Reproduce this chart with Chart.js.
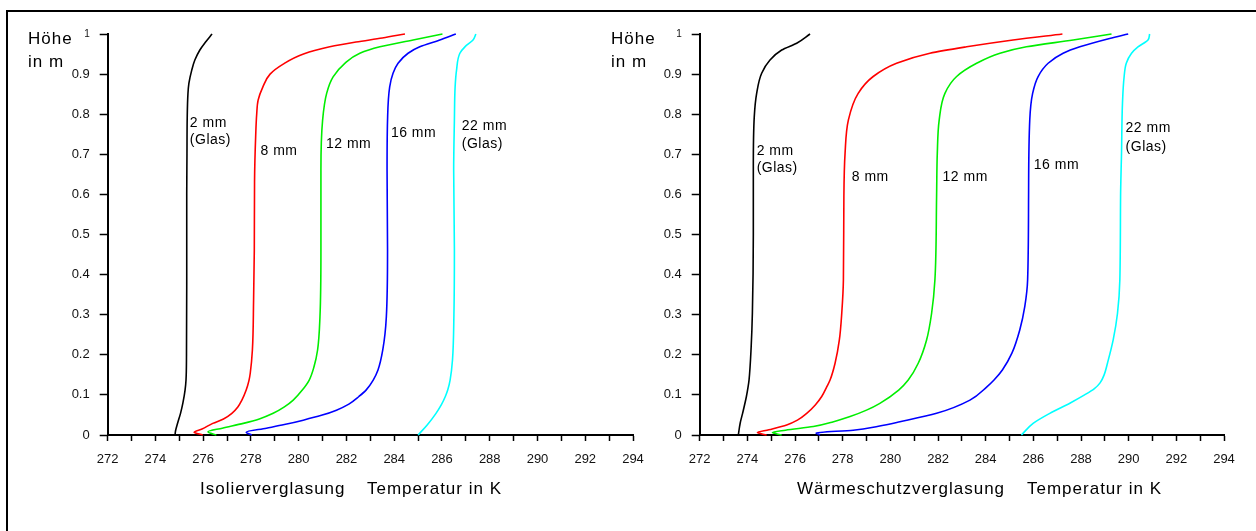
<!DOCTYPE html>
<html>
<head>
<meta charset="utf-8">
<script src="https://cdn.jsdelivr.net/npm/chart.js@4.4.1/dist/chart.umd.min.js"></script>
<style>
  html, body { margin: 0; padding: 0; background: #fff; }
  body { width: 1256px; height: 531px; position: relative; overflow: hidden; }
  #frame { position: absolute; left: 6px; top: 10px; width: 1400px; height: 700px;
           border-top: 2px solid #000; border-left: 2px solid #000; }
  .box { position: absolute; top: 0; height: 531px; }
  #boxL { left: 0; width: 660px; }
  #boxR { left: 592px; width: 664px; }
</style>
</head>
<body>
<div id="frame"></div>
<div class="box" id="boxL"><canvas id="chartIso" width="660" height="531"></canvas></div>
<div class="box" id="boxR"><canvas id="chartWsv" width="664" height="531"></canvas></div>
<script>
// Axis tick labels
const tempTickLabels = ['272','274','276','278','280','282','284','286','288','290','292','294'];
const heightTickLabels = ['0','0.1','0.2','0.3','0.4','0.5','0.6','0.7','0.8','0.9','1'];

// Series colours, one per gap width
const seriesNames  = ['2 mm', '8 mm', '12 mm', '16 mm', '22 mm'];
const seriesColors = ['#000000', '#ff0000', '#00ee00', '#0000ff', '#00ffff'];

// Isolierverglasung: [Höhe in m, Temperatur in K]
const iso2mm = [[0,274.82],[0.01,274.84],[0.03,274.93],[0.054,275.05],[0.08,275.15],[0.112,275.24],[0.137,275.28],[0.2,275.3],[0.4,275.31],[0.6,275.31],[0.7,275.32],[0.79,275.33],[0.85,275.36],[0.877,275.4],[0.91,275.52],[0.935,275.65],[0.96,275.86],[0.98,276.1],[1.0,276.37]];
const iso8mm = [[0,275.98],[0.007,275.62],[0.015,275.95],[0.029,276.4],[0.04,276.85],[0.054,277.2],[0.07,277.45],[0.087,277.62],[0.112,277.8],[0.137,277.92],[0.154,277.97],[0.212,278.06],[0.337,278.11],[0.461,278.14],[0.633,278.15],[0.75,278.2],[0.8,278.24],[0.835,278.3],[0.868,278.5],[0.9,278.8],[0.925,279.35],[0.95,280.2],[0.968,281.3],[0.98,282.4],[0.99,283.5],[1.0,284.45]];
const iso12mm = [[0,276.55],[0.008,276.2],[0.017,276.8],[0.029,277.68],[0.04,278.35],[0.054,278.93],[0.07,279.4],[0.087,279.77],[0.112,280.15],[0.137,280.44],[0.17,280.64],[0.212,280.79],[0.295,280.89],[0.461,280.93],[0.66,280.93],[0.785,281.0],[0.852,281.17],[0.893,281.44],[0.927,281.93],[0.952,282.56],[0.968,283.4],[0.985,284.79],[1.0,286.02]];
const iso16mm = [[0,278.03],[0.007,277.8],[0.017,278.65],[0.026,279.4],[0.037,280.19],[0.049,280.95],[0.062,281.58],[0.077,282.1],[0.096,282.52],[0.112,282.82],[0.137,283.12],[0.162,283.32],[0.212,283.52],[0.295,283.67],[0.461,283.72],[0.66,283.7],[0.785,283.72],[0.868,283.81],[0.902,283.95],[0.927,284.16],[0.952,284.58],[0.968,285.07],[0.985,285.91],[1.0,286.58]];
const iso22mm = [[0,285.0],[0.025,285.38],[0.054,285.75],[0.075,285.97],[0.096,286.14],[0.112,286.24],[0.137,286.34],[0.187,286.44],[0.3,286.5],[0.461,286.52],[0.66,286.49],[0.785,286.52],[0.868,286.55],[0.91,286.61],[0.952,286.75],[0.968,286.96],[0.985,287.3],[1.0,287.42]];

// Wärmeschutzverglasung: [Höhe in m, Temperatur in K]
const wsv2mm = [[0,273.62],[0.03,273.7],[0.054,273.8],[0.096,273.96],[0.12,274.03],[0.137,274.07],[0.22,274.16],[0.303,274.21],[0.5,274.25],[0.669,274.25],[0.794,274.29],[0.852,274.39],[0.902,274.6],[0.935,274.95],[0.96,275.44],[0.977,276.07],[1.0,276.63]];
const wsv8mm = [[0,274.81],[0.006,274.42],[0.013,274.9],[0.025,275.65],[0.037,276.1],[0.054,276.49],[0.075,276.85],[0.096,277.12],[0.12,277.33],[0.137,277.47],[0.179,277.68],[0.237,277.86],[0.303,277.96],[0.387,278.03],[0.594,278.05],[0.703,278.1],[0.786,278.24],[0.852,278.65],[0.894,279.28],[0.927,280.26],[0.952,281.66],[0.968,283.2],[0.985,285.15],[1.0,287.22]];
const wsv12mm = [[0,275.44],[0.006,275.05],[0.012,275.6],[0.021,276.77],[0.032,277.55],[0.046,278.31],[0.062,279.0],[0.079,279.56],[0.112,280.35],[0.137,280.75],[0.179,281.17],[0.237,281.52],[0.303,281.73],[0.387,281.87],[0.594,281.94],[0.703,281.97],[0.786,282.05],[0.852,282.29],[0.894,282.78],[0.927,283.62],[0.952,284.6],[0.968,285.71],[0.985,287.67],[1.0,289.28]];
const wsv16mm = [[0,277.05],[0.005,276.88],[0.012,278.44],[0.022,279.5],[0.033,280.4],[0.054,281.94],[0.087,283.34],[0.12,284.05],[0.137,284.35],[0.162,284.7],[0.204,285.1],[0.262,285.43],[0.32,285.64],[0.387,285.76],[0.594,285.8],[0.786,285.85],[0.852,285.97],[0.894,286.2],[0.927,286.62],[0.952,287.25],[0.968,287.95],[0.989,289.2],[1.0,289.98]];
const wsv22mm = [[0,285.5],[0.029,285.99],[0.054,286.69],[0.08,287.55],[0.1,288.15],[0.115,288.55],[0.13,288.8],[0.15,288.97],[0.179,289.11],[0.237,289.35],[0.303,289.53],[0.387,289.63],[0.594,289.66],[0.703,289.7],[0.827,289.74],[0.894,289.81],[0.927,289.9],[0.952,290.12],[0.968,290.39],[0.985,290.81],[1.0,290.88]];

// Curve annotations: [text, Temperatur, Höhe]
const isoCurveLabels = [['2 mm',275.44,0.777],['(Glas)',275.44,0.736],['8 mm',278.4,0.709],['12 mm',281.14,0.726],['16 mm',283.86,0.753],['22 mm',286.83,0.771],['(Glas)',286.83,0.726]];
const wsvCurveLabels = [['2 mm',274.39,0.709],['(Glas)',274.39,0.665],['8 mm',278.38,0.644],['12 mm',282.19,0.644],['16 mm',286.02,0.672],['22 mm',289.87,0.765],['(Glas)',289.87,0.719]];

const FONT = '"Liberation Sans", Arial, Helvetica, sans-serif';

const textPlugin = {
  id: 'chartTexts',
  afterDatasetsDraw(chart, args, opts) {
    const ctx = chart.ctx;
    const xs = chart.scales.x, ys = chart.scales.y;
    ctx.save();
    ctx.fillStyle = '#000';
    ctx.textAlign = 'left';
    ctx.textBaseline = 'middle';
    ctx.letterSpacing = '0.5px';
    ctx.font = '14px ' + FONT;
    opts.curveLabels.forEach(([t, temp, h]) => {
      ctx.fillText(t, xs.getPixelForValue(temp), ys.getPixelForValue(h));
    });
    ctx.letterSpacing = '1px';
    ctx.font = '17px ' + FONT;
    ctx.fillText('Höhe', opts.yTitleX, 39);
    ctx.fillText('in m', opts.yTitleX, 62);
    opts.xTitle.forEach(([t, x]) => ctx.fillText(t, x, 489));
    ctx.restore();
  }
};

function makeChart(id, series, curveLabels, xTitle, yTitleX, padRight) {
  // Height rises monotonically along each curve, so the spline runs along the y axis
  const datasets = series.map((pts, i) => ({
    label: seriesNames[i],
    data: pts.map(([h, t]) => ({ x: t, y: h })),
    showLine: true,
    borderColor: seriesColors[i],
    backgroundColor: seriesColors[i],
    borderWidth: 1.6,
    pointRadius: 0,
    cubicInterpolationMode: 'monotone',
    clip: 4
  }));
  return new Chart(document.getElementById(id), {
    type: 'scatter',
    data: { datasets },
    plugins: [textPlugin],
    options: {
      indexAxis: 'y',
      responsive: false,
      animation: false,
      events: [],
      layout: { padding: { top: 34, left: 0, right: padRight, bottom: 36 } },
      plugins: {
        legend: { display: false },
        tooltip: { enabled: false },
        chartTexts: { curveLabels, xTitle, yTitleX }
      },
      scales: {
        x: {
          type: 'linear', min: 272, max: 294,
          afterFit(s) { s.height = 60; },
          border: { display: true, color: '#000', width: 2 },
          grid: { drawOnChartArea: false, drawTicks: true, tickLength: 6, tickColor: '#000', tickWidth: 1.5 },
          ticks: {
            stepSize: 1, autoSkip: false, maxRotation: 0, padding: 11,
            color: '#111', font: { family: FONT, size: 13 },
            callback: v => (v % 2 === 0 ? tempTickLabels[(v - 272) / 2] : '')
          }
        },
        y: {
          type: 'linear', min: 0, max: 1,
          afterFit(s) { s.width = 107.7; },
          border: { display: true, color: '#000', width: 2 },
          grid: { drawOnChartArea: false, drawTicks: true, tickLength: 8, tickColor: '#000', tickWidth: 1.5 },
          ticks: {
            stepSize: 0.1, padding: 10, color: '#111',
            font: c => ({ family: FONT, size: (c.tick && c.tick.value > 0.99) ? 10 : 13 }),
            callback: (v, i) => heightTickLabels[i]
          }
        }
      }
    }
  });
}

makeChart('chartIso', [iso2mm, iso8mm, iso12mm, iso16mm, iso22mm], isoCurveLabels,
  [['Isolierverglasung', 200], ['Temperatur in K', 367]], 28, 27);
makeChart('chartWsv', [wsv2mm, wsv8mm, wsv12mm, wsv16mm, wsv22mm], wsvCurveLabels,
  [['Wärmeschutzverglasung', 205], ['Temperatur in K', 435]], 19, 32);
</script>
</body>
</html>
